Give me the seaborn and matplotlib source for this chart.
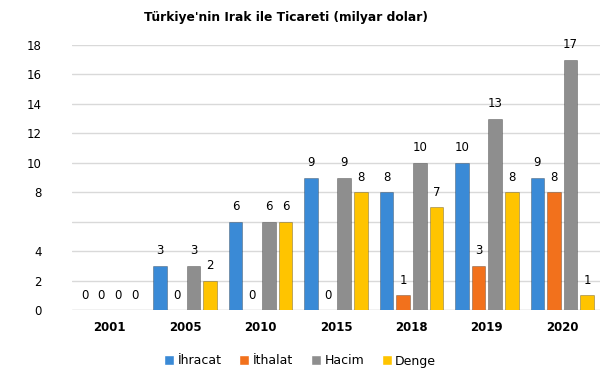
import pandas as pd
import numpy as np
import matplotlib
matplotlib.use("Agg")
import matplotlib.pyplot as plt
import seaborn as sns

# veriler
yillar = ["2001", "2005", "2010", "2015", "2018", "2019", "2020"]
ihracat = [0, 3, 6, 9, 8, 10, 9]
ithalat = [0, 0, 0, 0, 1, 3, 8]
hacim = [0, 3, 6, 9, 10, 13, 17]
denge = [0, 2, 6, 8, 7, 8, 1]
seriler = ["İhracat", "İthalat", "Hacim", "Denge"]
renkler = ["#3A8AD6", "#F2711C", "#8E8E8E", "#FFC400"]
y_ticks = [0, 2, 4, 6, 8, 10, 12, 14, 16, 18]
y_tick_labels = ["0", "2", "4", "", "8", "10", "12", "14", "16", "18"]

df = pd.DataFrame({
    "Yıl": yillar * 4,
    "Seri": sum([[s] * len(yillar) for s in seriler], []),
    "Değer": ihracat + ithalat + hacim + denge,
})

sns.set_theme(style="white")
plt.rcParams["font.family"] = ["DejaVu Sans"]

fig = plt.figure(figsize=(6.07, 3.81), dpi=100)
ax = fig.add_axes([72 / 607, 1 - 310 / 381, 528 / 607, 265 / 381])

sns.barplot(data=df, x="Yıl", y="Değer", hue="Seri", palette=renkler,
            saturation=1, width=0.88, gap=0.18, ax=ax, legend=True)

for cont, renk in zip(ax.containers, renkler):
    for bar in cont:
        bar.set_edgecolor(matplotlib.colors.to_rgba("#000000", 0.3))
        bar.set_linewidth(0.6)
    ax.bar_label(cont, fmt="%d", padding=6, fontsize=8.5, color="black")

ax.set_ylim(0, 18)
ax.set_yticks(y_ticks)
ax.set_yticklabels(y_tick_labels, fontsize=8.5, color="black")
ax.yaxis.grid(True, color="#D9D9D9", linewidth=1)
ax.set_axisbelow(True)
ax.tick_params(axis="y", length=0, pad=22)
ax.tick_params(axis="x", length=0, pad=8)
for lbl in ax.get_xticklabels():
    lbl.set_fontweight("bold")
    lbl.set_fontsize(8.5)
    lbl.set_color("black")
ax.set_xlabel("")
ax.set_ylabel("")
sns.despine(ax=ax, left=True, bottom=True, top=True, right=True)
ax.axhline(0, color="#D9D9D9", linewidth=1, zorder=0)

fig.text(286 / 607, 1 - 18 / 381, "Türkiye'nin Irak ile Ticareti (milyar dolar)",
         ha="center", va="center", fontsize=8.8, fontweight="bold", color="black")

handles, labels = ax.get_legend_handles_labels()
ax.get_legend().remove()
leg = fig.legend(handles, labels, loc="center", bbox_to_anchor=(300 / 607, 1 - 361 / 381),
                 ncol=4, frameon=False, fontsize=9, handlelength=0.8, handleheight=0.8,
                 handletextpad=0.3, columnspacing=1.4)
for t in leg.get_texts():
    t.set_color("black")

fig.savefig("out.png", dpi=100)
